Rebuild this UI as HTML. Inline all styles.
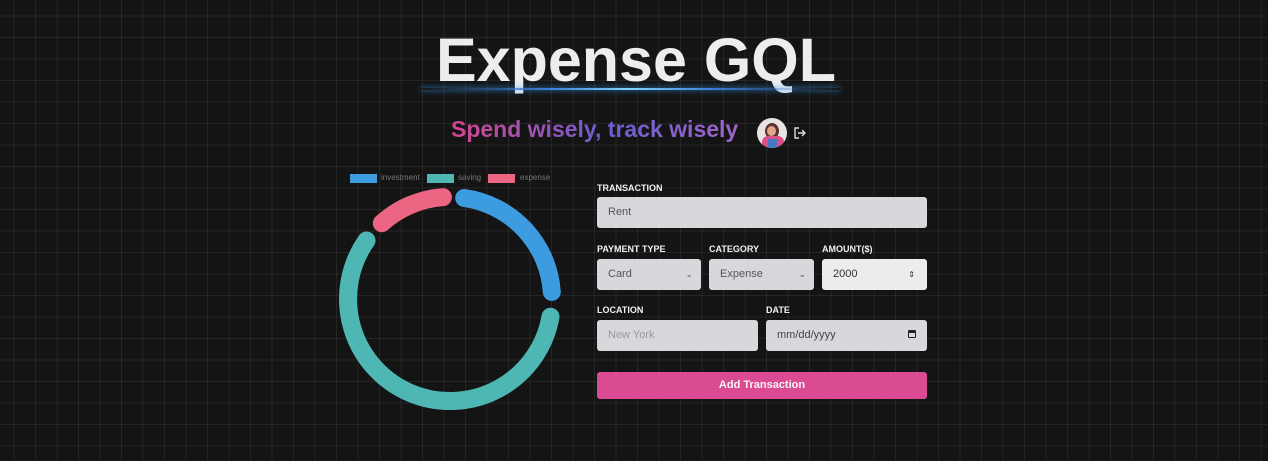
<!DOCTYPE html>
<html><head><meta charset="utf-8"><style>
html,body{margin:0;padding:0}
body{width:1268px;height:461px;overflow:hidden;position:relative;background:#141414;font-family:"Liberation Sans",sans-serif;
background-image:linear-gradient(rgba(255,255,255,0.07) 1px,transparent 1px),linear-gradient(90deg,rgba(255,255,255,0.07) 1px,transparent 1px);
background-size:21.5px 21.5px;background-position:-8px -6px}
.abs{position:absolute}
h1{position:absolute;left:0;width:1268px;top:25px;margin:0;text-align:center;font-size:61px;font-weight:bold;color:#ededed;letter-spacing:0px;padding-left:4px;box-sizing:border-box}
.glow{position:absolute;left:420px;width:420px;top:88px;height:2px;background:linear-gradient(90deg,transparent,#3a7bd5 30%,#7fd4ff 50%,#3a7bd5 70%,transparent);box-shadow:0 0 6px #3aa0ff}
.sub{position:absolute;left:451px;top:116px;font-size:23px;font-weight:bold;background:linear-gradient(90deg,#d4458e,#6b5fd0 55%,#a064c8);-webkit-background-clip:text;background-clip:text;color:transparent}
.lbl{position:absolute;font-size:9px;font-weight:bold;color:#f2f2f2}
.inp{position:absolute;background:#d8d8dc;border-radius:3px;height:31px;font-size:11px;color:#555;line-height:31px;padding-left:11px;box-sizing:border-box}
.btn{position:absolute;left:597px;top:372px;width:330px;height:27px;background:#db4b93;border-radius:3px;color:#f5f5f5;font-size:11px;font-weight:bold;text-align:center;line-height:27px}
.leg{position:absolute;top:174px;height:9px;width:27px}
.lt{position:absolute;top:173px;font-size:8px;color:#777}
</style></head><body>
<h1>Expense GQL</h1>
<div class="glow"></div>
<div class="sub">Spend wisely, track wisely</div>
<div class="abs" style="left:757px;top:118px;width:30px;height:30px;border-radius:50%;background:#e9e4e4;overflow:hidden">
 <div class="abs" style="left:8px;top:5px;width:14px;height:16px;border-radius:50%;background:#5a3030"></div>
 <div class="abs" style="left:10px;top:8px;width:9px;height:10px;border-radius:50%;background:#e0a58a"></div>
 <div class="abs" style="left:5px;top:18px;width:22px;height:14px;border-radius:6px 6px 0 0;background:#d94f86"></div>
 <div class="abs" style="left:11px;top:21px;width:9px;height:10px;background:#4a78c0"></div>
</div>
<svg class="abs" style="left:793px;top:126px" width="14" height="14" viewBox="0 0 14 14"><path d="M6 2H2v10h4M5 7h7M9 4l3 3-3 3" fill="none" stroke="#ddd" stroke-width="1.4"/></svg>

<div class="leg" style="left:350px;background:#3d9be0"></div><div class="lt" style="left:381px">investment</div>
<div class="leg" style="left:427px;background:#4fb7b3"></div><div class="lt" style="left:458px">saving</div>
<div class="leg" style="left:488px;background:#ec6583"></div><div class="lt" style="left:520px">expense</div>

<svg class="abs" style="left:0;top:0" width="1268" height="461">
<g fill="none" stroke-width="18" stroke-linecap="round">
<path d="M464.2 198 A102 102 0 0 1 551.8 291.9" stroke="#3d9be0"/>
<path d="M550.5 316.7 A102 102 0 1 1 366.5 240.5" stroke="#4fb7b3"/>
<path d="M381.8 223.2 A102 102 0 0 1 442.9 197.2" stroke="#ec6583"/>
</g></svg>

<div class="lbl" style="left:597px;top:183px">TRANSACTION</div>
<div class="inp" style="left:597px;top:197px;width:330px">Rent</div>
<div class="lbl" style="left:597px;top:244px">PAYMENT TYPE</div>
<div class="lbl" style="left:709px;top:244px">CATEGORY</div>
<div class="lbl" style="left:822px;top:244px">AMOUNT($)</div>
<div class="inp" style="left:597px;top:259px;width:104px">Card<span class="abs" style="right:8px;top:0;font-size:9px">&#8964;</span></div>
<div class="inp" style="left:709px;top:259px;width:105px">Expense<span class="abs" style="right:8px;top:0;font-size:9px">&#8964;</span></div>
<div class="inp" style="left:822px;top:259px;width:105px;background:#ececee;color:#333">2000<span class="abs" style="right:12px;top:0;font-size:8px">&#8661;</span></div>
<div class="lbl" style="left:597px;top:305px">LOCATION</div>
<div class="lbl" style="left:766px;top:305px">DATE</div>
<div class="inp" style="left:597px;top:320px;width:161px;color:#999">New York</div>
<div class="inp" style="left:766px;top:320px;width:161px;color:#444">mm/dd/yyyy<span class="abs" style="right:11px;top:10px;width:8px;height:8px;border:1.5px solid #222;border-top-width:3px;border-radius:1px;box-sizing:border-box"></span></div>
<div class="btn">Add Transaction</div>
</body></html>
